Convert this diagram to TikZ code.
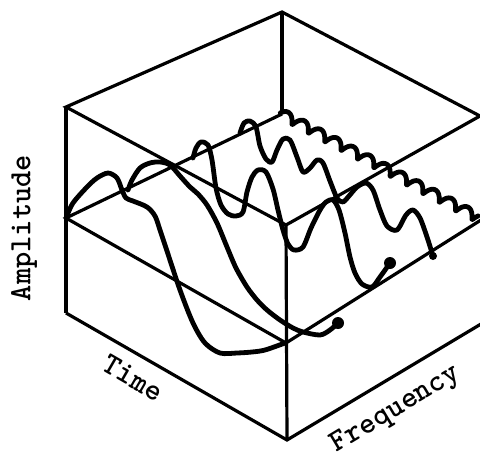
\documentclass[tikz,border=0pt]{standalone}
\begin{document}
\begin{tikzpicture}[x=0.25mm,y=-0.25mm,
  edge/.style={line width=0.8mm},
  wave/.style={line width=1.2mm,line cap=round,line join=round},
  axislabel/.style={font=\fontsize{22}{22}\selectfont\ttfamily\bfseries,inner sep=0pt}]
\useasboundingbox (0,0) rectangle (480,458);

% corners of the box
\coordinate (Lt) at (66,107);
\coordinate (Bt) at (282,12);
\coordinate (Rt) at (480,116);
\coordinate (Ft) at (286,225);
\coordinate (Lm) at (66,218);
\coordinate (Bm) at (282,114);
\coordinate (Rm) at (481,220);
\coordinate (Fm) at (286,343);
\coordinate (Lb) at (66,313);
\coordinate (Fb) at (287,440);
\coordinate (Rb) at (481,324);

\draw[edge,line join=miter] (Lt) -- (Bt) -- (Rt) -- (Ft) -- cycle;
\draw[edge] (Lt) -- (Lb);
\draw[edge] (Bt) -- (Bm);
\draw[edge] (Ft) -- (Fb);
\draw[edge] (Bm) -- (Lm) -- (Fm) -- (Rm);
\draw[edge] (Lb) -- (Fb) -- (Rb);

% waveforms
\draw[wave] plot[smooth] coordinates {(66,218) (73,203) (87,187) (97,178)
  (108,173) (117,178) (122,190) (126,198) (133,201) (147,207) (155,216)
  (160,230) (166,248) (180,290) (193,323) (205,343) (220,353) (237,353)
  (252,352) (265,350) (285,343)};
\draw[wave] plot[smooth] coordinates {(128,190) (132,180) (140,168)
  (150,163) (160,162) (170,165) (180,176) (190,187) (198,194) (207,205)
  (217,223) (227,247) (236,268) (247,287) (257,300) (267,310) (280,320)
  (293,328) (303,332) (320,335) (330,330) (338,323)};
\draw[wave] plot[smooth] coordinates {(193,158) (196,148) (201,142)
  (208,145) (212,160) (216,188) (221,205) (228,214) (236,216) (243,212)
  (247,192) (252,177) (258,170) (266,172) (273,189) (278,210) (283,230)
  (288,244) (294,250) (303,247) (311,228) (320,210) (326,202) (333,200)
  (339,210) (345,233) (350,257) (355,273) (362,284) (372,287) (380,277)
  (390,263)};
\draw[wave] plot[smooth] coordinates {(240,133) (244,123) (250,121)
  (256,127) (260,146) (266,159) (272,162) (277,150) (283,139) (290,140)
  (297,157) (303,172) (310,168) (317,160) (323,163) (330,181) (337,198)
  (343,202) (349,196) (357,187) (366,183) (373,190) (380,210) (387,226)
  (397,230) (406,215) (413,210) (420,218) (427,237) (433,256)};
\draw[wave] plot[domain=0:223,samples=400]
  ({282+0.8842*(\x-2*cos(\x*19.46))+0.4668*4.5*sin(\x*19.46)},
   {114+0.4668*(\x-2*cos(\x*19.46))-0.8842*4.5*sin(\x*19.46)});

\fill (338,323) circle (1.5mm);
\fill (390,263) circle (1.5mm);
\fill (433,256) circle (1mm);

% axis labels
\node[axislabel,rotate=90] (amp) at (24,228) {Amplitude};
\node[axislabel,rotate=-30] (time) at (133,378) {Time};
\node[axislabel,rotate=31] (freq) at (396,410) {Frequency};
\end{tikzpicture}
\end{document}
